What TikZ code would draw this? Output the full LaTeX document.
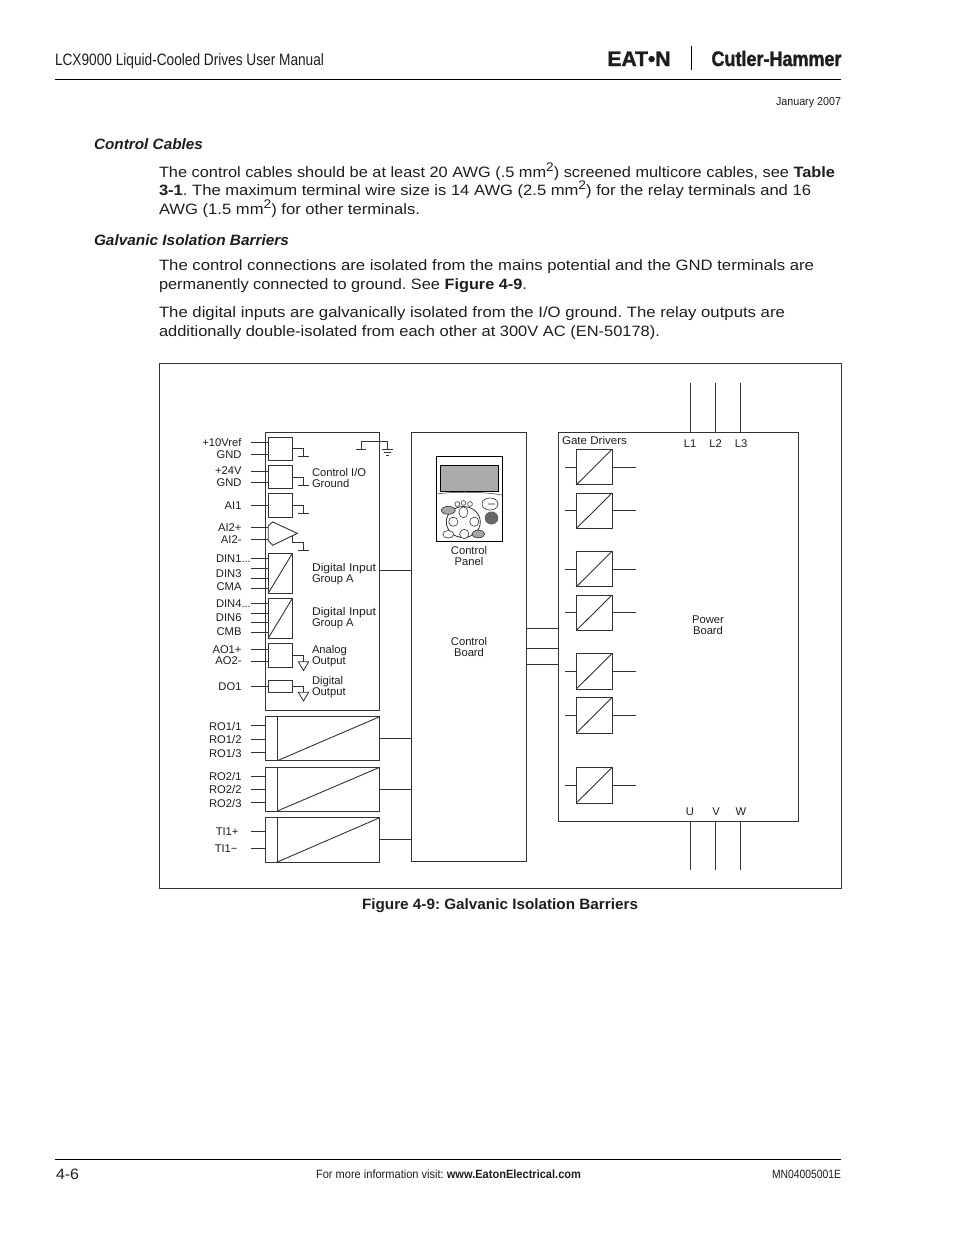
\documentclass[tikz,border=0pt]{standalone}
\usepackage{fontspec}
\usepackage{graphicx}
\setmainfont{Liberation Sans}
\newfontfamily\logofont[FakeBold=1.6]{Liberation Sans}
\newcommand{\wtext}[2]{\resizebox{#1pt}{\height}{#2}}
\newcommand{\bodysz}{\fontsize{15}{18}\selectfont}
\newcommand{\supr}[1]{\raisebox{6pt}{\fontsize{12.5}{13}\selectfont #1}}
\definecolor{ink}{HTML}{333333}
\definecolor{txt}{HTML}{1E1E1E}
\tikzset{
  wire/.style={draw=ink,line width=0.85pt},
  frame/.style={draw=ink,line width=0.9pt,inner sep=0pt,outer sep=0pt,anchor=north west},
  page/.style={anchor=base west,inner sep=0pt,outer sep=0pt,text=txt},
  pager/.style={anchor=base east,inner sep=0pt,outer sep=0pt,text=txt},
  lab/.style={inner sep=0pt,outer sep=0pt,text=txt,font=\fontsize{11.2}{11}\selectfont,align=center},
  labl/.style={lab,anchor=west,align=left},
  labr/.style={lab,anchor=east},
  btn/.style={draw=ink,line width=0.6pt,fill=white},
  btng/.style={draw=ink,line width=0.6pt,fill=black!35}
}
\begin{document}
\frenchspacing
\begin{tikzpicture}[x=1pt,y=-1pt]
\useasboundingbox (0,0) rectangle (954,1235);
\fill[white] (0,0) rectangle (954,1235);
% page furniture
\node[page] (hd) at (55,65.5) {\wtext{269}{\fontsize{16.5}{18}\selectfont LCX9000 Liquid-Cooled Drives User Manual}};
\coordinate (rtl) at (55,79.8); \coordinate (rtr) at (841,79.8);
\draw[black,line width=0.8pt] (rtl) -- (rtr);
\node[page] (eaton) at (607.5,66) {\wtext{63}{\fontsize{21}{22}\selectfont\logofont\bfseries EAT•N}};
\coordinate (dva) at (691.3,46); \coordinate (dvb) at (691.3,70);
\draw[black,line width=1pt] (dva) -- (dvb);
\node[pager] (ch) at (841.5,66) {\wtext{130}{\fontsize{21}{24}\selectfont\logofont\bfseries Cutler-Hammer}};
\node[pager] (jan) at (841,105) {\wtext{65}{\fontsize{11.5}{12}\selectfont January 2007}};
% body
\node[page] (h1) at (94,149) {\wtext{109}{\fontsize{15}{18}\selectfont\bfseries\itshape Control Cables}};
\node[page] (p1) at (159,177) {\wtext{676}{\bodysz The control cables should be at least 20 AWG (.5 mm\supr{2}) screened multicore cables, see \textbf{Table}}};
\node[page] (p2) at (159,195) {\wtext{652}{\bodysz \textbf{3-1}. The maximum terminal wire size is 14 AWG (2.5 mm\supr{2}) for the relay terminals and 16}};
\node[page] (p3) at (159,214) {\wtext{261}{\bodysz AWG (1.5 mm\supr{2}) for other terminals.}};
\node[page] (h2) at (94,245) {\wtext{195}{\fontsize{15}{18}\selectfont\bfseries\itshape Galvanic Isolation Barriers}};
\node[page] (p4) at (159,270) {\wtext{655}{\bodysz The control connections are isolated from the mains potential and the GND terminals are}};
\node[page] (p5) at (159,289) {\wtext{368}{\bodysz permanently connected to ground. See \textbf{Figure 4-9}.}};
\node[page] (p6) at (159,317) {\wtext{626}{\bodysz The digital inputs are galvanically isolated from the I/O ground. The relay outputs are}};
\node[page] (p7) at (159,336) {\wtext{501}{\bodysz additionally double-isolated from each other at 300V AC (EN-50178).}};
\node[page] (cap) at (362,909) {\wtext{276}{\bodysz\bfseries Figure 4-9: Galvanic Isolation Barriers}};
\coordinate (rbl) at (55,1159.5); \coordinate (rbr) at (841,1159.5);
\draw[black,line width=0.8pt] (rbl) -- (rbr);
\node[page] (pn) at (56,1179) {\wtext{23}{\bodysz 4-6}};
\node[page] (ft) at (316,1178) {\wtext{265}{\fontsize{12}{13}\selectfont For more information visit: \textbf{www.EatonElectrical.com}}};
\node[pager] (mn) at (841,1178) {\wtext{69}{\fontsize{12}{13}\selectfont MN04005001E}};
% figure frame
\node[frame,minimum width=682pt,minimum height=525pt] (outer) at (159.5,363.5) {};
% main blocks
\node[frame,minimum width=114.5pt,minimum height=278pt] (io) at (265.3,432) {};
\node[frame,minimum width=115pt,minimum height=429pt] (board) at (411.2,432.3) {};
\node[frame,minimum width=240.3pt,minimum height=389pt] (power) at (558,432.3) {};
% relay blocks
\foreach \n/\t/\b in {ra/716.7/760.7,rb/767.3/811,rc/817.7/862}{
  \node[frame,minimum width=114.4pt,minimum height=\b pt-\t pt] (\n) at (265.3,\t) {};
  \draw[frame] (277.3,\t) -- (277.3,\b);
  \draw[frame] (277.3,\b) -- (\n.north east);
  \draw[wire] (\n.east) -- (\n.east -| board.west);
}
% small boxes
\foreach \n/\t/\b in {ba/437/460,bb/465/488.7,bc/493.7/517,bd/643.3/667.3,be/680.3/692}{
  \node[frame,minimum width=24.2pt,minimum height=\b pt-\t pt] (\n) at (268.2,\t) {};
}
\draw[frame] (268.2,526) -- (272.7,522) -- (297.3,533.3) -- (272.7,545.3) -- (268.2,540.7) -- cycle;
\foreach \n/\t in {da/553.3,db/598.3}{
  \node[frame,minimum width=24.2pt,minimum height=40pt] (\n) at (268.2,\t) {};
  \draw[frame] (\n.south west) -- (\n.north east);
}
% leads
\foreach \y in {442.7,454.3,471,482.7,505,527.7,539.7,558.3,568.7,578.7,588,603.7,613,622.7,632,649.7,661.3,686.3}{
  \draw[wire] (250.7,\y) -- (268.2,\y);
}
\foreach \y in {725.3,739,752.3,776.3,789.3,802.7,831.7,848.3}{
  \draw[wire] (250.7,\y) -- (265.3,\y);
}
% ground stubs
\foreach \a/\b in {448.3/456.7,477/485,505/513.3}{
  \draw[wire] (292.4,\a) -- (303.3,\a) -- (303.3,\b);
  \draw[wire] (298.3,\b) -- (308.7,\b);
}
\draw[wire] (292.4,535.5) -- (292.4,542.3) -- (303.3,542.3) -- (303.3,550.3);
\draw[wire] (298.3,550.3) -- (308.7,550.3);
\draw[wire] (292.4,655.3) -- (303.3,655.3) -- (303.3,661.7);
\draw[wire] (298.3,661.7) -- (308.7,661.7) -- (303.5,670.5) -- cycle;
\draw[wire] (292.4,686.3) -- (303.3,686.3) -- (303.3,692.3);
\draw[wire] (298.3,692.3) -- (308.7,692.3) -- (303.5,701) -- cycle;
% chassis ground
\draw[wire] (355.7,449.3) -- (366,449.3);
\draw[wire] (361,449.3) -- (361,441.7) -- (387.3,441.7) -- (387.3,449.3);
\draw[wire] (382,449.3) -- (393,449.3);
\draw[wire] (384,452.4) -- (391,452.4);
\draw[wire] (385.8,455.4) -- (389,455.4);
% board links
\coordinate (dig) at (379.8,570);
\draw[wire] (dig) -- (dig -| board.west);
\foreach \y in {628.7,648,664}{ \draw[wire] (board.east |- 0,\y) -- (power.west |- 0,\y); }
% mains
\foreach \x in {690.3,715.5,740.7}{
  \draw[wire] (\x,383) -- (power.north -| \x,0);
  \draw[wire] (power.south -| \x,0) -- (\x,870);
}
% gate drivers
\foreach \n/\t in {ga/449.3,gb/493,gc/551.3,gd/595,ge/653.5,gf/697.5,gg/767.5}{
  \node[frame,minimum width=35.7pt,minimum height=35.5pt] (\n) at (576.3,\t) {};
  \draw[frame] (\n.south west) -- (\n.north east);
  \draw[wire] (\n.west) -- ++(-11.3,0);
  \draw[wire] (\n.east) -- ++(23.7,0);
}
% control panel
\node[frame,draw=black,minimum width=65.7pt,minimum height=84.3pt] (panel) at (436.3,456.7) {};
\node[frame,draw=black,fill=black!33,line width=0.7pt,minimum width=58pt,minimum height=25.6pt] (screen) at (440,465.7) {};
\draw[ink,line width=0.5pt] (436.3,494) .. controls (455,491.5) and (483,491.5) .. (502,495);
\draw[ink,line width=0.8pt] (463.3,522) ellipse (17 and 15.5);
\foreach \x/\y/\w/\h in {457.3/504/2.4/2.4,463.5/503/2.4/2.4,470/504/2.4/2.4,463.4/512.3/4.5/5.5,453.3/521.7/4.6/4.6,474.3/521.7/4.6/4.6,464.2/534/4.6/4.6,448.3/534.3/5.5/3.8,490/504/8/6}{
  \draw[btn] (\x,\y) ellipse ({\w} and {\h});
}
\foreach \x/\y/\w/\h in {448.3/510.3/7/4,478.3/534/6.5/3.8}{
  \draw[btng] (\x,\y) ellipse ({\w} and {\h});
}
\fill[black!30] (488,502.7) rectangle (495,505.3);
\fill[black!60] (491.5,518) ellipse (6.8 and 6.5);
% labels
\foreach \y/\s in {442.7/+10Vref,454.7/GND,471/+24V,483/GND,506/AI1,528/AI2+,540/AI2-,574/DIN3,587/CMA,618/DIN6,631.5/CMB,649.5/AO1+,661/AO2-,686.5/DO1,726/{RO1/1},739.5/{RO1/2},753/{RO1/3},776.5/{RO2/1},789.5/{RO2/2},803/{RO2/3}}{
  \node[labr] at (241.5,\y) {\s};
}
\node[labl] (dina) at (216,559) {DIN1...};
\node[labl] (dinb) at (216,604) {DIN4...};
\node[labr] (tia) at (238.5,832) {TI1+};
\node[labr] (tib) at (237.5,849) {TI1−};
\node[labl] (l1) at (312,478) {Control I/O\\Ground};
\node[labl] (l2) at (312,573.7) {\wtext{64}{Digital Input}\\Group A};
\node[labl] (l3) at (312,618.5) {\wtext{64}{Digital Input}\\Group A};
\node[labl] (l4) at (312,656) {Analog\\Output};
\node[labl] (l5) at (312,687) {Digital\\Output};
\node[lab] (l6) at (469,556) {Control\\Panel};
\node[lab] (l7) at (469,647) {Control\\Board};
\node[lab] (l8) at (708,625) {Power\\Board};
\node[labl] (l9) at (562,440.5) {\wtext{65}{Gate Drivers}};
\foreach \x/\s in {690/L1,715.5/L2,741/L3}{ \node[lab] at (\x,443.5) {\s}; }
\foreach \x/\s in {690/U,716/V,741/W}{ \node[lab] at (\x,811.5) {\s}; }
\end{tikzpicture}
\end{document}
